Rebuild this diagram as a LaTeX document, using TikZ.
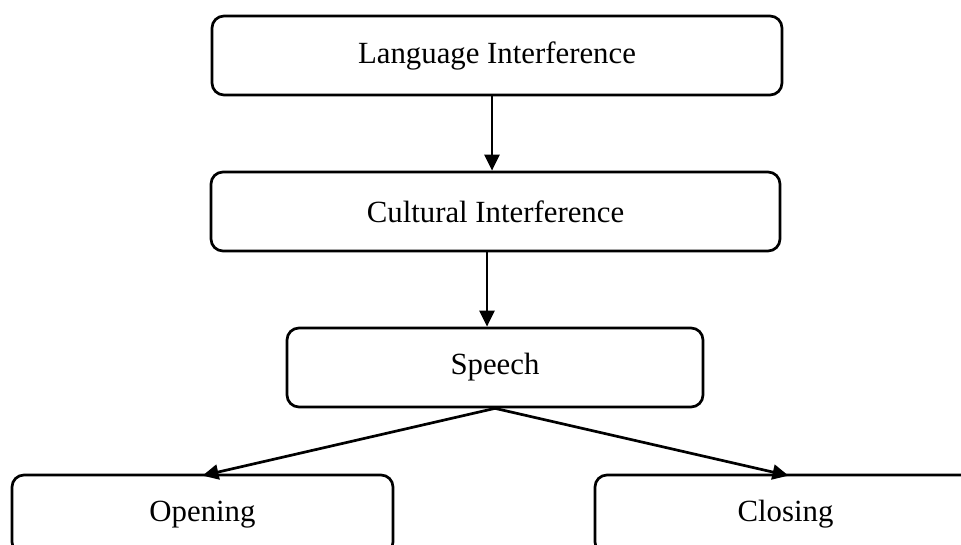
\documentclass[tikz,border=0pt]{standalone}
\usepackage{fontspec}
\setmainfont{Liberation Serif}
\usetikzlibrary{arrows.meta}
\begin{document}
\begin{tikzpicture}[x=1pt,y=-1pt,
  box/.style={draw, line width=2.7pt, rounded corners=12pt, minimum height=79pt,
    inner sep=0pt, font=\fontsize{30.8}{36}\selectfont},
  arr/.style={line width=2.7pt, -{Triangle[length=16pt,width=15pt]}}]
\useasboundingbox (0,0) rectangle (961,545);
\node[box, minimum width=570pt] (L) at (497,55.5) {Language Interference};
\node[box, minimum width=569pt] (C) at (495.5,211.5) {Cultural Interference};
\node[box, minimum width=416pt] (S) at (495,367.5) {Speech};
\node[box, minimum width=381pt] (O) at (202.5,514.5) {Opening};
\node[box, minimum width=381pt] (K) at (785.5,514.5) {Closing};
\draw[arr] ([xshift=-5pt]L.south) -- ([xshift=-3.5pt]C.north);
\draw[arr] ([xshift=-8.5pt]C.south) -- ([xshift=-8pt]S.north);
\draw[arr] (S.south) -- ([yshift=-2pt]O.north);
\draw[arr] (S.south) -- ([xshift=3pt,yshift=-2pt]K.north);
\end{tikzpicture}
\end{document}
